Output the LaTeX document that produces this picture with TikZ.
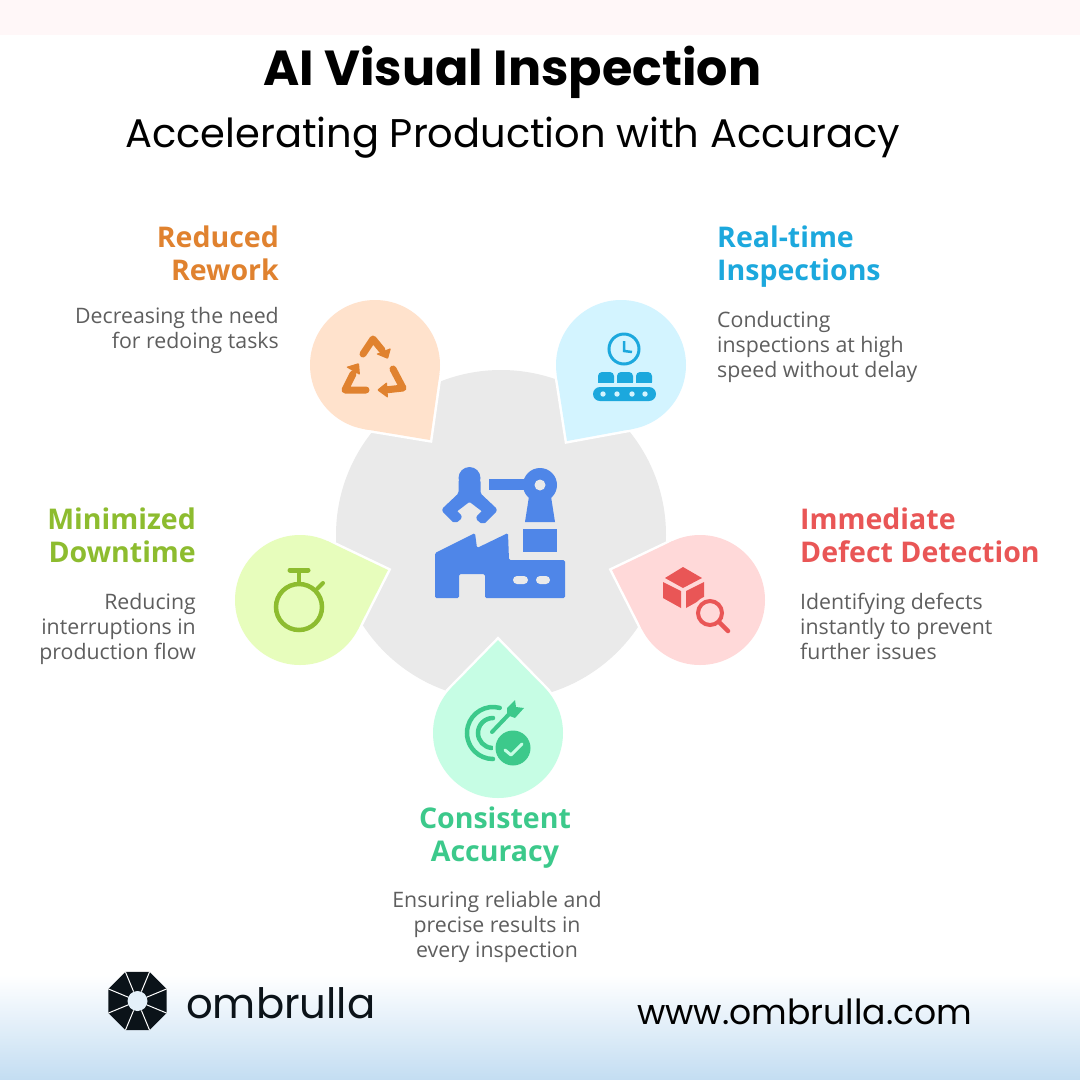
\documentclass[tikz,border=0pt]{standalone}
\usepackage{fontspec}
\usepackage{tikz}
\usetikzlibrary{calc,shapes.geometric}
\setmainfont{Open Sans}
\newfontfamily\poppins{Poppins}
\definecolor{reworkfill}{HTML}{FFE2CC}
\definecolor{timefill}{HTML}{D3F4FF}
\definecolor{defectfill}{HTML}{FFD9D9}
\definecolor{accuracyfill}{HTML}{C6FDE4}
\definecolor{downtimefill}{HTML}{E7FDBC}
\definecolor{reworkink}{HTML}{E0822F}
\definecolor{timeink}{HTML}{1CA8DD}
\definecolor{defectink}{HTML}{E95656}
\definecolor{accuracyink}{HTML}{3CC98B}
\definecolor{downtimeink}{HTML}{8DBC2F}
\definecolor{robotblue}{HTML}{4F86E8}
\definecolor{hubgray}{HTML}{EAEAEA}
\definecolor{bodygray}{HTML}{5E5E5E}
\definecolor{logoink}{HTML}{0B1319}
\definecolor{topband}{HTML}{FFF7F8}
\definecolor{footblue}{HTML}{C3DDF2}
\tikzstyle{dropcircle} = [circle,minimum size=130pt,inner sep=0pt,outer sep=0pt]
\tikzstyle{dropedge} = [draw=white,line width=5pt,line join=miter]
\tikzstyle{recycle} = [reworkink,line width=7pt,line cap=round,line join=round]
\tikzstyle{head} = [inner sep=0pt,font=\fontsize{28.5}{33}\selectfont\bfseries]
\tikzstyle{body} = [inner sep=0pt,text=bodygray,font=\fontsize{21.3}{25}\selectfont]

\begin{document}
\begin{tikzpicture} [x=1pt,y=-1pt]

	\useasboundingbox (0,0) rectangle (1080,1080);
	\fill [white] (0,0) rectangle (1080,1080);
	\fill [topband] (0,0) rectangle (1080,35);
	\shade [top color=white,bottom color=footblue] (0,975) rectangle (1080,1080);

	\node [inner sep=0pt,anchor=base west,font=\poppins\fontsize{49.2}{52}\selectfont\bfseries] (title) at (263,85) {AI Visual Inspection};
	\node [inner sep=0pt,anchor=base west,font=\poppins\fontsize{40}{46}\selectfont] (subtitle) at (125,147) {Accelerating Production with Accuracy};

	\node [circle,fill=hubgray,minimum size=330pt,inner sep=0pt] (hub) at (501,535) {};

	\foreach \name/\cx/\cy/\tx/\ty/\col in {rework/375/365/430/440/reworkfill,time/621/365/567/441/timefill,defect/700/600/612/570/defectfill,accuracy/498/733/498/640/accuracyfill,downtime/300/600/388/570/downtimefill}
	{
		\node [dropcircle] (\name) at (\cx,\cy) {};
		\coordinate (\name tip) at (\tx,\ty);
		\draw [dropedge] (\name tip) -- (tangent cs:node=\name,point={(\name tip)},solution=1) -- (tangent cs:node=\name,point={(\name tip)},solution=2) -- cycle;
		\draw [dropedge] (\name.center) circle (65pt);
		\fill [\col] (\name tip) -- (tangent cs:node=\name,point={(\name tip)},solution=1) -- (tangent cs:node=\name,point={(\name tip)},solution=2) -- cycle;
		\fill [\col] (\name.center) circle (65pt);
	}

	\fill [robotblue,rounded corners=1.5pt] (435,553) -- (475,533) -- (477,548) -- (508,533) -- (509,560) -- (565,560) -- (565,598) -- (485,598) -- (485,574) -- (459,574) -- (459,598) -- (435,598) -- cycle;
	\fill [robotblue] (523,529) rectangle (557,552);
	\fill [hubgray,rounded corners=4pt] (513,576) rectangle (528,584);
	\fill [hubgray,rounded corners=4pt] (536,576) rectangle (550,584);
	\fill [robotblue] (540,485) circle (17pt);
	\fill [robotblue] (489,479) rectangle (530,490);
	\fill [robotblue] (530,490) -- (550,490) -- (555,522) -- (525,522) -- cycle;
	\fill [hubgray] (540,485) circle (5.5pt);
	\fill [robotblue] (469.5,478) circle (11pt);
	\filldraw [robotblue,line width=3pt,line join=round,rounded corners=2pt] (460,480) -- (460,494) -- (443,510) -- (455,522) -- (461,517) -- (455,511) -- (469.5,500) -- (484,511) -- (477,518) -- (483,523) -- (496,510) -- (479,494) -- (479,480) -- cycle;

	\draw [recycle] (363,354) -- (373,339) -- (382,350);
	\fill [reworkink,rounded corners=1pt] (391,348) -- (388,359) -- (376,354) -- cycle;
	\draw [recycle] (366,390) -- (345,390) -- (353,374);
	\fill [reworkink,rounded corners=1pt] (346,367) -- (359,363) -- (360,375) -- cycle;
	\draw [recycle] (393,369) -- (403,388) -- (385,390);
	\fill [reworkink,rounded corners=1pt] (377,390) -- (387,382) -- (388,398) -- cycle;

	\draw [timeink,line width=3pt] (624,349) circle (15pt);
	\draw [timeink,line width=2.5pt] (624,341) -- (624,351) -- (632,352);
	\foreach \x in {598,617,636}
	{
		\fill [timeink,rounded corners=4pt] (\x,372) rectangle (\x+16,386);
		\fill [timeink] (\x,378) rectangle (\x+16,382.5);
	}
	\fill [timefill] (595,382.5) rectangle (655,387);
	\fill [timeink,rounded corners=7pt] (593,387) rectangle (656,401);
	\foreach \x in {603,617,632,645}
		\fill [timefill] (\x,394) circle (2.7pt);

	\fill [defectink] (683,567) -- (702,578) -- (683,588) -- (665,578) -- cycle;
	\fill [defectink] (663,582) -- (681,591) -- (681,608) -- (663,598) -- cycle;
	\fill [defectink] (686,591) -- (704,582) -- (704,598) -- (686,608) -- cycle;
	\fill [defectfill] (710,613) circle (17pt);
	\draw [defectink,line width=4pt] (710,613) circle (12pt);
	\draw [defectink,line width=4.5pt,line cap=round] (719,622) -- (728,631);

	\draw [accuracyink,line width=4.5pt,line cap=round] (493,733) ++(75:26pt) arc [start angle=75,end angle=270,radius=26pt];
	\draw [accuracyink,line width=4.5pt,line cap=round] (493,733) ++(90:15pt) arc [start angle=90,end angle=265,radius=15pt];
	\draw [accuracyink,line width=4pt,line cap=round] (492,732) -- (513,710);
	\fill [accuracyink] (507,708) -- (515,700) -- (516,707) -- (524,708) -- (515,718) -- (507,715) -- cycle;
	\fill [accuracyfill] (513,748) circle (20pt);
	\fill [accuracyink] (513,748) circle (17.5pt);
	\draw [accuracyfill,line width=3pt,line cap=round,line join=round] (505,750) -- (511,755) -- (522,744);

	\draw [downtimeink,line width=4.5pt] (299,607) circle (23pt);
	\draw [downtimeink,line width=5pt,line cap=round] (290,570) -- (308,570);
	\draw [downtimeink,line width=3.5pt] (299,570) -- (299,584);
	\draw [downtimeink,line width=4pt,line cap=round] (317,589) -- (323,583);

	\node [head,text=reworkink,align=right,anchor=north east] (reworkhead) at (279,226) {Reduced\\Rework};
	\node [body,align=right,anchor=north east] (reworkbody) at (279,307) {Decreasing the need\\for redoing tasks};
	\node [head,text=timeink,align=left,anchor=north west] (timehead) at (717,226) {Real-time\\Inspections};
	\node [body,align=left,anchor=north west] (timebody) at (717,311) {Conducting\\inspections at high\\speed without delay};
	\node [head,text=defectink,align=left,anchor=north west] (defecthead) at (800,508) {Immediate\\Defect Detection};
	\node [body,align=left,anchor=north west] (defectbody) at (800,593) {Identifying defects\\instantly to prevent\\further issues};
	\node [head,text=downtimeink,align=right,anchor=north east] (downtimehead) at (196,508) {Minimized\\Downtime};
	\node [body,align=right,anchor=north east] (downtimebody) at (196,593) {Reducing\\interruptions in\\production flow};
	\node [head,text=accuracyink,align=center,anchor=north] (accuracyhead) at (495,807) {Consistent\\Accuracy};
	\node [body,align=center,anchor=north] (accuracybody) at (497,891) {Ensuring reliable and\\precise results in\\every inspection};

	\node [regular polygon,regular polygon sides=8,fill=logoink,minimum size=63pt,inner sep=0pt,outer sep=0pt] (logo) at (137.5,1001) {};
	\node [circle,minimum size=20pt,inner sep=0pt,fill=footblue!45!white] (logohole) at (137.5,1001) {};
	\foreach \i in {1,...,8}
		\draw [white,line width=1pt] (logohole) -- (logo.corner \i);
	\node [inner sep=0pt,anchor=base west,text=logoink,font=\poppins\fontsize{41.8}{48}\selectfont] (brand) at (186,1018) {ombrulla};
	\node [inner sep=0pt,anchor=base west,font=\poppins\fontsize{34.6}{40}\selectfont] (website) at (637,1024) {www.ombrulla.com};

\end{tikzpicture}
\end{document}
